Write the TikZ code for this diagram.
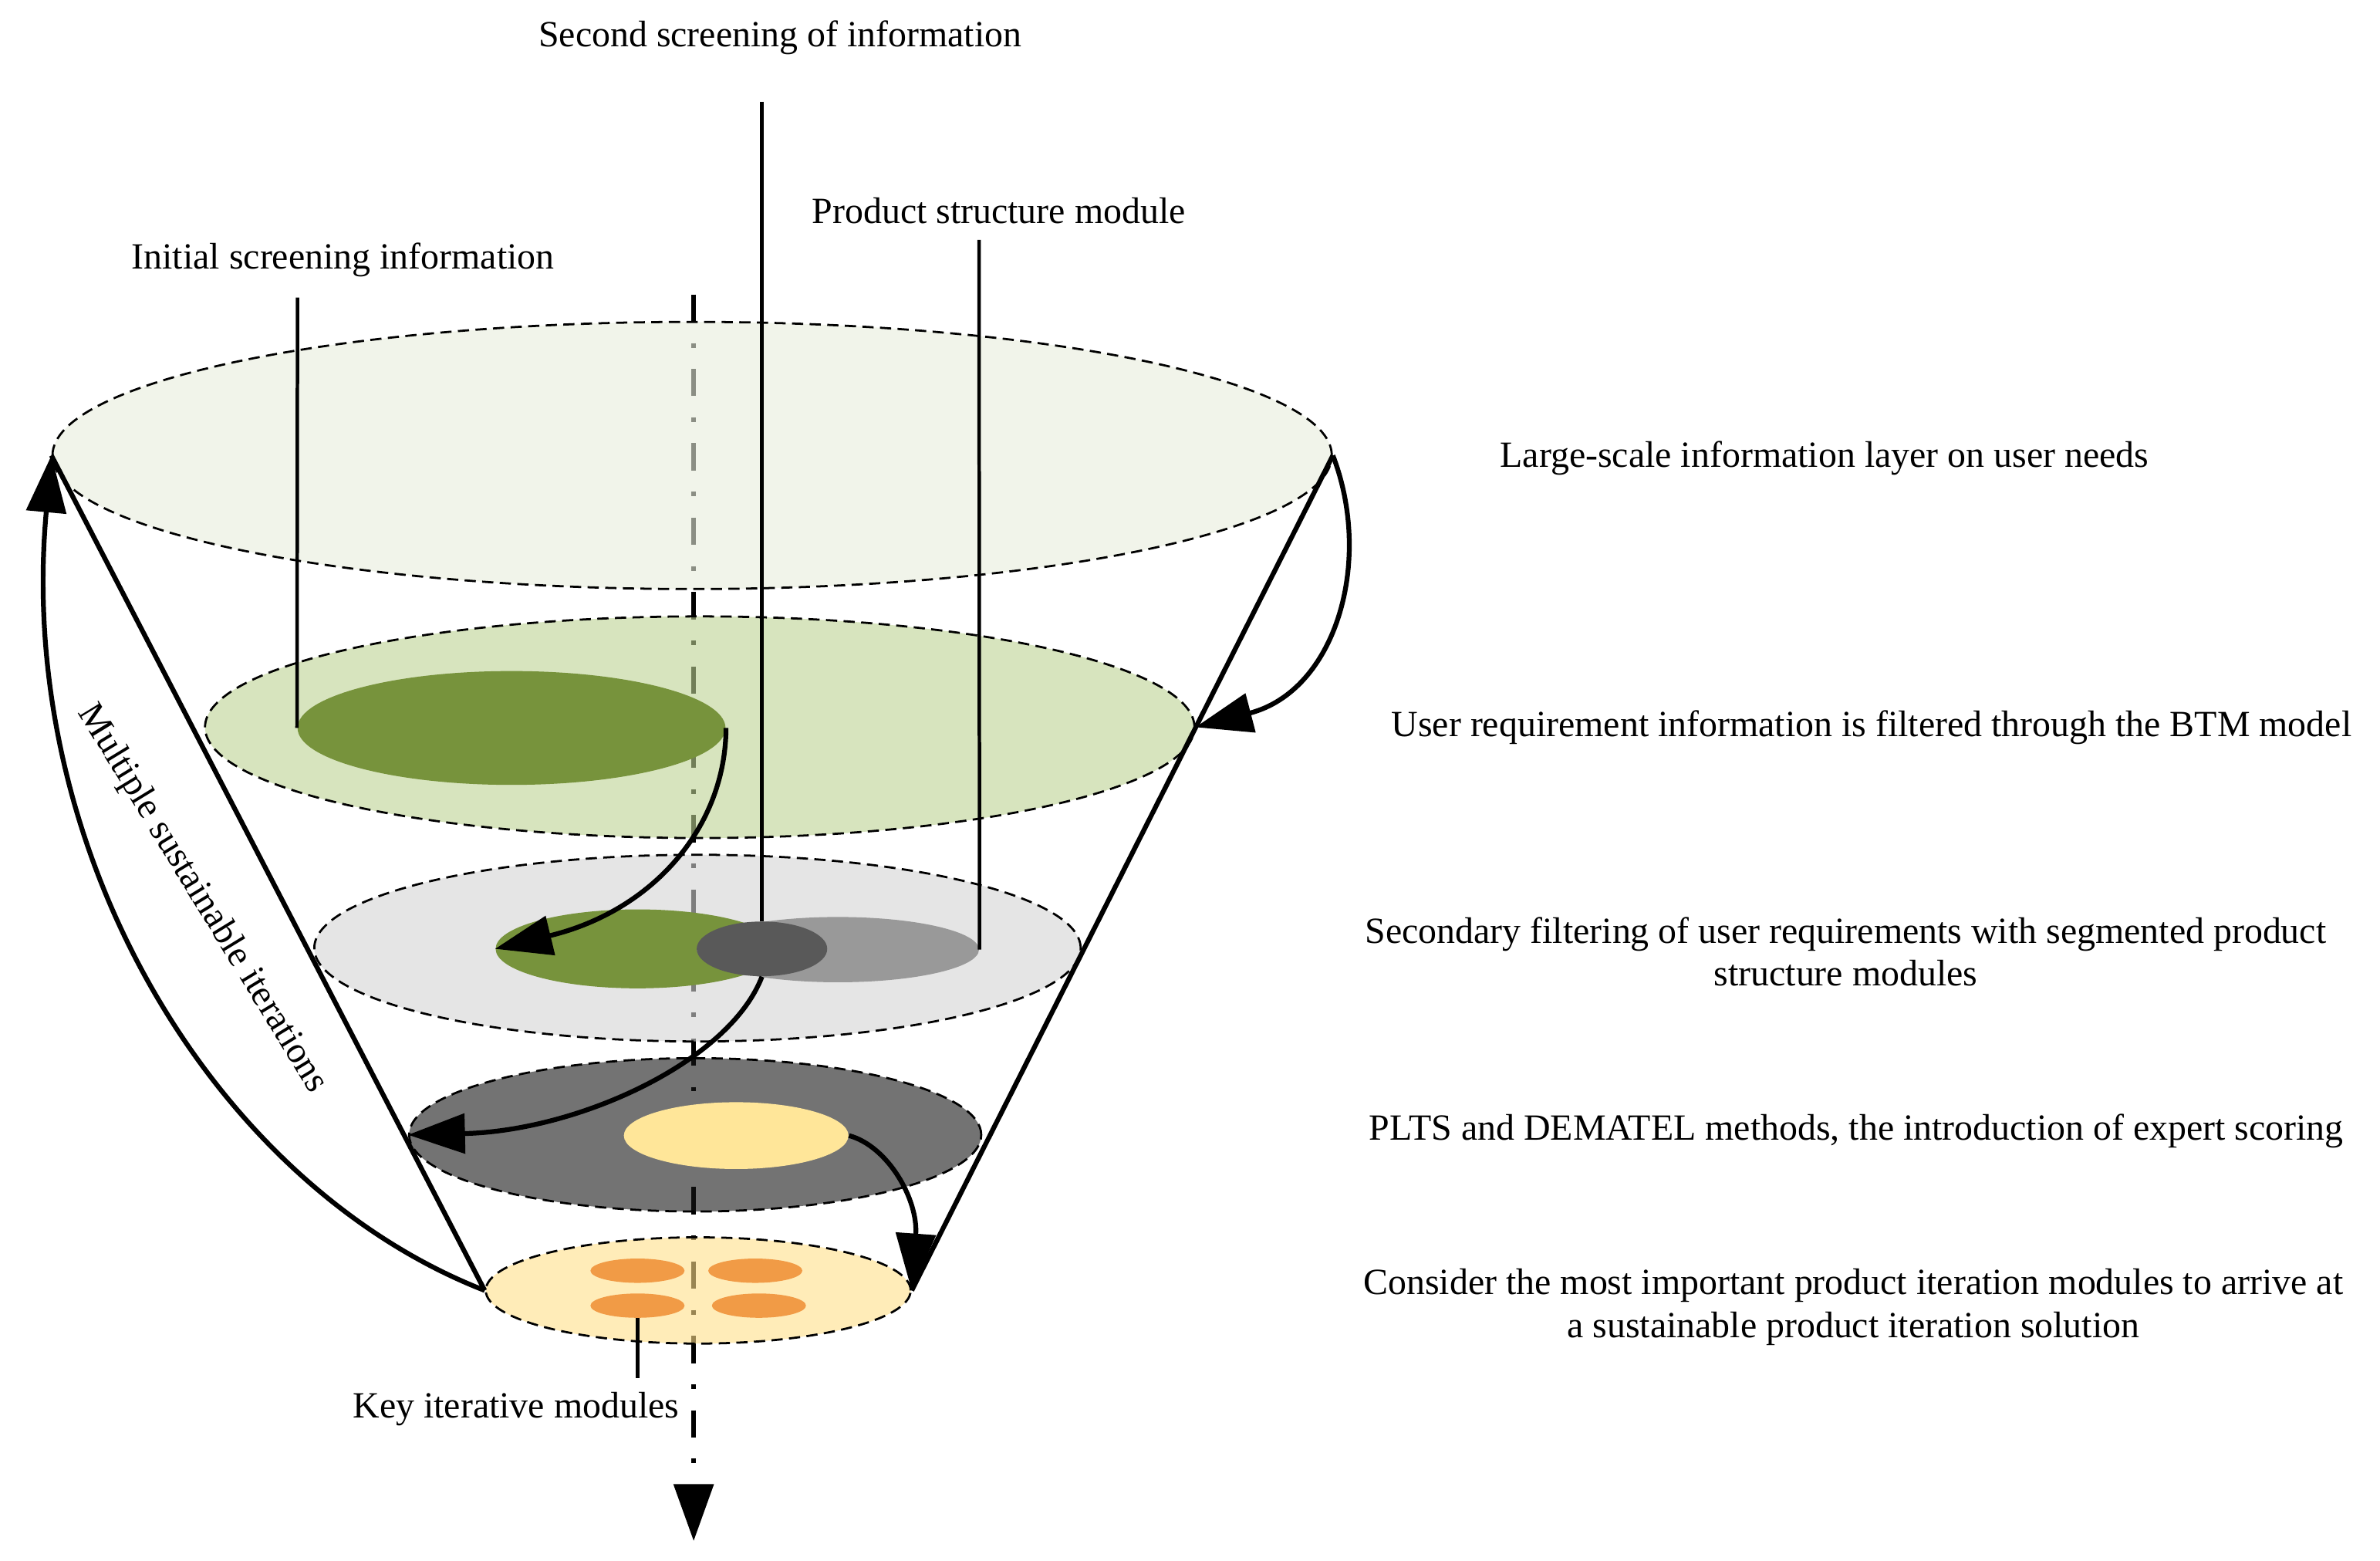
\documentclass[tikz,border=0pt]{standalone}
\usepackage{fontspec}
\setmainfont{Liberation Serif}
\usetikzlibrary{arrows.meta,shapes.geometric}

\definecolor{layerA}{RGB}{232,237,220}
\definecolor{layerB}{RGB}{189,210,147}
\definecolor{layerC}{RGB}{211,211,211}
\definecolor{layerD}{RGB}{22,22,22}
\definecolor{layerE}{RGB}{255,223,137}
\definecolor{leafgreen}{HTML}{77933C}
\definecolor{modgrey}{HTML}{999999}
\definecolor{overlap}{HTML}{595959}
\definecolor{expert}{HTML}{FFE699}
\definecolor{keyorange}{HTML}{F19B46}

\begin{document}
\begin{tikzpicture}[x=0.02cm, y=-0.02cm, >={Triangle[length=0.75cm,width=0.52cm]},
  layer/.style={ellipse, draw, dash pattern=on 4.2pt off 2.4pt, line width=0.8pt, fill opacity=0.6, inner sep=0pt},
  blob/.style={ellipse, inner sep=0pt},
  funnel/.style={line width=1.8pt},
  flow/.style={line width=1.8pt, ->},
  leader/.style={line width=1.3pt},
  lbl/.style={font=\fontsize{13.85}{16}\selectfont, align=center}]
  \useasboundingbox (0,0) rectangle (1568,1028);

  \coordinate (axtop) at (457,194);
  \coordinate (axbot) at (457,1015);
  \draw[line width=1.8pt, dash pattern=on 0.36cm off 0.28cm on 0.06cm off 0.28cm, ->] (axtop) -- (axbot);

  \node[layer, fill=layerA, minimum width=16.86cm, minimum height=3.52cm] (L1) at (456,300) {};
  \node[layer, fill=layerB, minimum width=13.04cm, minimum height=2.92cm] (L2) at (461,479) {};
  \node[blob, fill=leafgreen, minimum width=5.64cm, minimum height=1.5cm] (g2) at (337,479.5) {};
  \node[layer, fill=layerC, minimum width=10.1cm, minimum height=2.46cm] (L3) at (459.5,624.5) {};
  \node[blob, fill=leafgreen, minimum width=3.74cm, minimum height=1.04cm] (g3) at (420,625) {};
  \node[blob, fill=modgrey, minimum width=3.72cm, minimum height=0.86cm] (p3) at (552,625.5) {};
  \node[blob, fill=overlap, minimum width=1.72cm, minimum height=0.72cm] (d3) at (502,625) {};
  \node[layer, fill=layerD, minimum width=7.54cm, minimum height=2.02cm] (L4) at (458,747.5) {};
  \node[blob, fill=expert, minimum width=2.96cm, minimum height=0.88cm] (y4) at (485,748) {};
  \node[layer, fill=layerE, minimum width=5.6cm, minimum height=1.4cm] (L5) at (460,850) {};
  \node[blob, fill=keyorange, minimum width=1.24cm, minimum height=0.32cm] (o1) at (420,837) {};
  \node[blob, fill=keyorange, minimum width=1.24cm, minimum height=0.32cm] (o2) at (497.6,837) {};
  \node[blob, fill=keyorange, minimum width=1.24cm, minimum height=0.32cm] (o3) at (420,860) {};
  \node[blob, fill=keyorange, minimum width=1.24cm, minimum height=0.32cm] (o4) at (500,860) {};

  \draw[funnel] (L1.west) -- (L5.west);
  \draw[funnel] (L1.east) -- (L5.east);

  \coordinate (ini) at (196,196);
  \coordinate (sec) at (502,67);
  \coordinate (pro) at (645,158);
  \coordinate (key) at (420,908);
  \draw[leader] (ini) -- (g2.west);
  \draw[leader] (sec) -- (d3.north);
  \draw[leader] (pro) -- (p3.east);
  \draw[leader] (o3.south) -- (key);

  \draw[flow] (L5.west) .. controls (140,780) and (10,560) .. (L1.west);
  \draw[flow] (L1.east) .. controls (905,370) and (880,455) .. (L2.east);
  \draw[flow] (g2.east) .. controls (478,545) and (430,600) .. (g3.west);
  \draw[flow] (d3.south) .. controls (480,700) and (380,745) .. (L4.west);
  \draw[flow] (y4.east) .. controls (585,755) and (605,790) .. (L5.east);

  \node[lbl] (tsec) at (514,25) {Second screening of information};
  \node[lbl] (tpro) at (658,139) {Product structure module};
  \node[lbl] (tini) at (226,171) {Initial screening information};
  \node[lbl] (tkey) at (340,928) {Key iterative modules};
  \node[lbl, rotate=-58.6] (titer) at (133,592) {Multiple sustainable iterations};
  \node[lbl] (r1) at (1202,302) {Large-scale information layer on user needs};
  \node[lbl] (r2) at (1233,479) {User requirement information is filtered through the BTM model};
  \node[lbl] (r3) at (1216,627) {Secondary filtering of user requirements with segmented product\\structure modules};
  \node[lbl] (r4) at (1223,745) {PLTS and DEMATEL methods, the introduction of expert scoring};
  \node[lbl] (r5) at (1221,861) {Consider the most important product iteration modules to arrive at\\a sustainable product iteration solution};
\end{tikzpicture}
\end{document}
